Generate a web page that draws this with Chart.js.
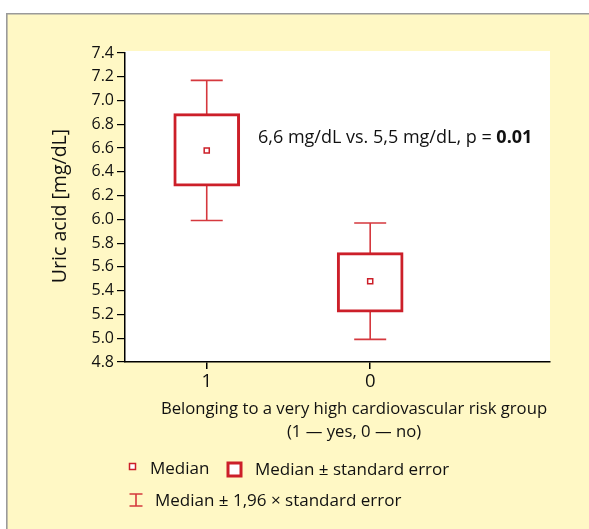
<!DOCTYPE html>
<html><head><meta charset="utf-8">
<script src="https://cdn.jsdelivr.net/npm/chart.js@4"></script>
<style>html,body{margin:0;padding:0;background:#fff;} #wrap{width:589px;height:529px;position:relative;}</style>
</head><body><div id="wrap"><canvas id="c" width="589" height="529"></canvas></div>
<script>
const categories = ['1', '0'];
const medians = [6.58, 5.48];
const seLow = [6.28, 5.22];
const seHigh = [6.89, 5.72];
const ciLow = [5.99, 4.99];
const ciHigh = [7.17, 5.97];
const yMin = 4.8, yMax = 7.4, yStep = 0.2;
const annotationParts = ['6,6 mg/dL vs. 5,5 mg/dL, p = ', '0.01'];
const xTitleLines = ['Belonging to a very high cardiovascular risk group', '(1 \u2014 yes, 0 \u2014 no)'];
const yTitle = 'Uric acid [mg/dL]';
const legendLabels = ['Median', 'Median \u00b1 standard error', 'Median \u00b1 1,96 \u00d7 standard error'];

const RED = '#cc1f29';
const WRED = '#d5383e';
const TXT = '#111111';
const FONT = '"Open Sans", "Liberation Sans", sans-serif';
const YELLOW = '#fff8c5';

const bgPlugin = {
  id: 'bg',
  beforeDraw(chart) {
    const ctx = chart.ctx, a = chart.chartArea;
    ctx.save();
    ctx.fillStyle = '#ffffff';
    ctx.fillRect(0, 0, chart.width, chart.height);
    ctx.fillStyle = YELLOW;
    ctx.fillRect(6, 13, chart.width, chart.height);
    ctx.strokeStyle = '#9a9a9a';
    ctx.lineWidth = 1.6;
    ctx.beginPath();
    ctx.moveTo(6.8, chart.height + 2);
    ctx.lineTo(6.8, 13.8);
    ctx.lineTo(chart.width + 2, 13.8);
    ctx.stroke();
    ctx.fillStyle = '#ffffff';
    ctx.fillRect(a.left, a.top - 2, a.right - a.left, a.bottom - a.top + 2);
    ctx.restore();
  }
};

const whiskerPlugin = {
  id: 'whiskers',
  beforeDatasetsDraw(chart) {
    const ctx = chart.ctx, xs = chart.scales.x, ys = chart.scales.y;
    ctx.save();
    ctx.strokeStyle = WRED;
    ctx.lineWidth = 1.6;
    categories.forEach((c, i) => {
      const x = xs.getPixelForValue(i + 1);
      const yT = ys.getPixelForValue(ciHigh[i]);
      const yB = ys.getPixelForValue(ciLow[i]);
      ctx.beginPath();
      ctx.moveTo(x, yT); ctx.lineTo(x, yB);
      ctx.moveTo(x - 16, yT); ctx.lineTo(x + 16, yT);
      ctx.moveTo(x - 16, yB); ctx.lineTo(x + 16, yB);
      ctx.stroke();
    });
    ctx.restore();
  }
};

const textPlugin = {
  id: 'texts',
  afterDraw(chart) {
    const ctx = chart.ctx, a = chart.chartArea;
    ctx.save();
    ctx.fillStyle = TXT;
    // annotation
    ctx.textBaseline = 'middle';
    ctx.textAlign = 'left';
    ctx.font = '18px ' + FONT;
    ctx.fillText(annotationParts[0], 258, 138);
    const w0 = ctx.measureText(annotationParts[0]).width;
    ctx.font = 'bold 18px ' + FONT;
    ctx.fillText(annotationParts[1], 258 + w0, 138);
    // x title
    ctx.textAlign = 'center';
    ctx.font = '16.7px ' + FONT;
    ctx.fillText(xTitleLines[0], 354, 409);
    ctx.fillText(xTitleLines[1], 354, 432);
    // y title
    ctx.save();
    ctx.translate(60, 206);
    ctx.rotate(-Math.PI / 2);
    ctx.font = '19.5px ' + FONT;
    ctx.fillText(yTitle, 0, 0);
    ctx.restore();
    // legend
    ctx.textAlign = 'left';
    ctx.font = '17px ' + FONT;
    ctx.strokeStyle = RED;
    ctx.lineWidth = 1.5;
    ctx.fillStyle = '#fff';
    ctx.fillRect(129.5, 463.5, 6, 6);
    ctx.strokeRect(129.5, 463.5, 6, 6);
    ctx.lineWidth = 3;
    ctx.fillRect(228, 463, 13, 13);
    ctx.strokeRect(228, 463, 13, 13);
    ctx.strokeStyle = WRED;
    ctx.lineWidth = 1.6;
    ctx.beginPath();
    ctx.moveTo(136, 494); ctx.lineTo(136, 506);
    ctx.moveTo(129.5, 494); ctx.lineTo(142.5, 494);
    ctx.moveTo(129.5, 506); ctx.lineTo(142.5, 506);
    ctx.stroke();
    ctx.fillStyle = TXT;
    ctx.fillText(legendLabels[0], 150, 469);
    ctx.fillText(legendLabels[1], 255, 470);
    ctx.fillText(legendLabels[2], 155, 501);
    ctx.restore();
  }
};

const chart = new Chart(document.getElementById('c'), {
  data: {
    datasets: [
      {
        type: 'bar',
        order: 2,
        data: categories.map((c, i) => ({ x: i + 1, y: [seLow[i], seHigh[i]] })),
        backgroundColor: '#ffffff',
        borderColor: RED,
        borderWidth: 3,
        borderSkipped: false,
        barThickness: 66
      },
      {
        type: 'scatter',
        order: 1,
        data: categories.map((c, i) => ({ x: i + 1, y: medians[i] })),
        pointStyle: 'rect',
        pointRadius: 3.6,
        backgroundColor: '#ffffff',
        borderColor: RED,
        borderWidth: 1.5
      }
    ]
  },
  options: {
    responsive: false,
    devicePixelRatio: 1,
    animation: false,
    events: [],
    layout: { padding: { left: 0, top: 53, right: 39, bottom: 0 } },
    plugins: { legend: { display: false }, tooltip: { enabled: false } },
    scales: {
      x: {
        type: 'linear',
        offset: false,
        min: 0.5,
        max: 3.1,
        afterBuildTicks: s => { s.ticks = categories.map((c, i) => ({ value: i + 1 })); },
        afterFit: s => { s.height = 167; },
        ticks: {
          callback: (v, idx) => categories[idx],
          font: { family: FONT, size: 18.5 },
          color: TXT,
          padding: 2,
          maxRotation: 0
        },
        grid: { offset: false, drawOnChartArea: false, drawTicks: true, tickLength: 7, color: '#000', lineWidth: 1.5 },
        border: { color: '#000', width: 1.5 }
      },
      y: {
        min: yMin,
        max: yMax,
        afterFit: s => { s.width = 125; },
        ticks: {
          stepSize: yStep,
          callback: v => Number(v).toFixed(1),
          font: { family: FONT, size: 16 },
          color: TXT,
          padding: 3
        },
        grid: { drawOnChartArea: false, drawTicks: true, tickLength: 8, color: '#000', lineWidth: 1.2 },
        border: { color: '#000', width: 1.5 }
      }
    }
  },
  plugins: [bgPlugin, whiskerPlugin, textPlugin]
});
</script>
</body></html>
